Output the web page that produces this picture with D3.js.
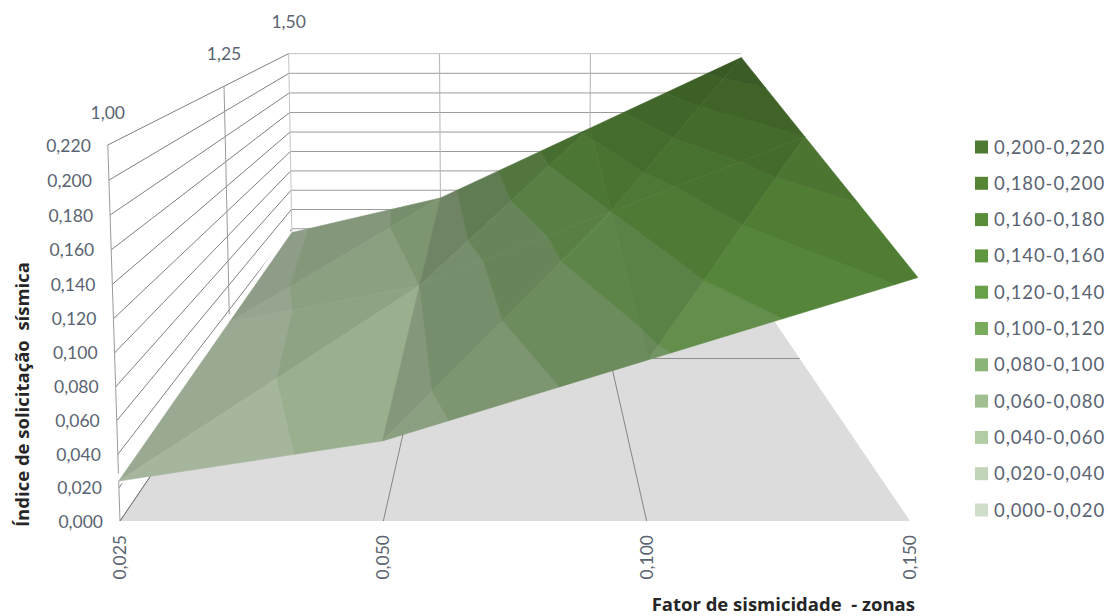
<!DOCTYPE html>
<html lang="pt">
<head>
<meta charset="utf-8">
<title>Índice de solicitação sísmica</title>
<script src="https://cdn.jsdelivr.net/npm/d3@7"></script>
<style>
  html, body { margin: 0; background: #fff; }
  svg { display: block; }
  text { font-family: Lato, "Open Sans", sans-serif; }
  .axis-title { font-family: "Open Sans", Lato, sans-serif; font-weight: 700; font-size: 18.5px; fill: #262626; white-space: pre; }
</style>
</head>
<body>
<svg id="chart" width="1108" height="616"></svg>
<script>
// Categories along the two horizontal axes
const zoneFactors = ["0,025", "0,050", "0,100", "0,150"];
const depthLabels = ["1,00", "1,25", "1,50"];

// Index values, one row per depth category
const row100 = [0.024, 0.048, 0.096, 0.144];
const row125 = [0.030, 0.060, 0.120, 0.180];
const row150 = [0.036, 0.072, 0.144, 0.216];
const surfaceRows = [row100, row125, row150];

// Vertical axis ticks and colour bands
const valueTicks = [0, 0.02, 0.04, 0.06, 0.08, 0.10, 0.12, 0.14, 0.16, 0.18, 0.20, 0.22];
const bandLabels = ["0,000-0,020", "0,020-0,040", "0,040-0,060", "0,060-0,080", "0,080-0,100",
  "0,100-0,120", "0,120-0,140", "0,140-0,160", "0,160-0,180", "0,180-0,200", "0,200-0,220"];
const bandColors = ["#cfdec8", "#c0d4b7", "#b2cca5", "#a0c091", "#8bb478", "#78ab5c",
  "#67a046", "#5f963e", "#5a8d3a", "#558534", "#4e7a32"];

// Brightness of each facet: [front/right triangle, back/left triangle] per cell
const facetLight = [
  [[0.86, 0.80], [0.78, 0.74], [0.83, 0.76]],
  [[0.78, 0.74], [0.74, 0.69], [0.75, 0.72]]
];

const svg = d3.select("#chart");
const uScale = d3.scalePoint().domain(d3.range(zoneFactors.length)).range([0, 1]);
const dScale = d3.scalePoint().domain(d3.range(depthLabels.length)).range([0, 1]);
const vScale = d3.scaleLinear().domain([0, 0.22]).range([0, 1]);

// Perspective view of the unit box: u across, d into the page, v upward
function project(u, d, v) {
  const w = 1 + 0.775 * d - 0.03 * v;
  return [515 + 790 * (u - 0.5) / w, (521 - 47.1 * d - 380.35 * v) / w];
}
const ring = pts => "M" + pts.map(p => project(...p).map(n => n.toFixed(2)).join(",")).join("L") + "Z";
const segment = (a, b) => "M" + project(...a).join(",") + "L" + project(...b).join(",");

const walls = svg.append("g");

// Floor
walls.append("path").attr("d", ring([[0, 0, 0], [1, 0, 0], [1, 1, 0], [0, 1, 0]])).attr("fill", "#dcdcdc");

const gridLine = (a, b, colour) => walls.append("path").attr("d", segment(a, b))
  .attr("fill", "none").attr("stroke", colour).attr("stroke-width", 1);

// Level lines on the left and back walls
valueTicks.forEach(t => {
  const v = vScale(t);
  gridLine([0, 0, v], [0, 1, v], "#7f7f7f");
  gridLine([0, 1, v], [1, 1, v], t === 0.22 ? "#c4c4c4" : "#9b9b9b");
});

// Uprights on the walls and cross lines on the floor
depthLabels.forEach((_, j) => gridLine([0, dScale(j), 0], [0, dScale(j), 1], j === 2 ? "#c4c4c4" : "#9a9a9a"));
zoneFactors.forEach((_, i) => {
  if (i > 0 && i < 3) {
    gridLine([uScale(i), 1, 0], [uScale(i), 1, 1], "#b4b4b4");
    gridLine([uScale(i), 0, 0], [uScale(i), 1, 0], "#858585");
  }
});
gridLine([0, 0, 0], [0, 1, 0], "#7f7f7f");
gridLine([0, dScale(1), 0], [1, dScale(1), 0], "#8f8f8f");

// Bright rim left along the surface's wall edge
const rim = surfaceRows.map((row, j) => project(uScale(0), dScale(j), vScale(row[0])));
svg.append("path").attr("d", d3.line()(rim)).attr("fill", "none").attr("stroke", "#fff").attr("stroke-width", 9);

// Cut a triangle, given as [u, d, value] corners, down to one value band
function clipBand(tri, lo, hi) {
  const cut = (poly, keep, level) => {
    const out = [];
    poly.forEach((p, k) => {
      const q = poly[(k + 1) % poly.length];
      if (keep(p[2])) out.push(p);
      if (keep(p[2]) !== keep(q[2])) {
        const t = (level - p[2]) / (q[2] - p[2]);
        out.push([p[0] + t * (q[0] - p[0]), p[1] + t * (q[1] - p[1]), level]);
      }
    });
    return out;
  };
  let poly = cut(tri, x => x >= lo, lo);
  if (poly.length) poly = cut(poly, x => x <= hi, hi);
  return poly;
}

// Surface, painted from the back row forward
const surface = svg.append("g");
const corner = (i, j) => [uScale(i), dScale(j), surfaceRows[j][i]];
d3.range(depthLabels.length - 2, -1, -1).forEach(j => {
  d3.range(zoneFactors.length - 1).forEach(i => {
    const triangles = [
      [corner(i, j), corner(i, j + 1), corner(i + 1, j + 1)],
      [corner(i, j), corner(i + 1, j), corner(i + 1, j + 1)]
    ];
    triangles.forEach((tri, side) => {
      const light = facetLight[j][i][side === 1 ? 0 : 1];
      bandColors.forEach((base, b) => {
        const poly = clipBand(tri, valueTicks[b], valueTicks[b + 1]);
        if (poly.length < 3) return;
        const c = d3.rgb(base);
        const fill = d3.rgb(c.r * light, c.g * light, c.b * light).formatHex();
        surface.append("path")
          .attr("d", ring(poly.map(p => [p[0], p[1], vScale(p[2])])))
          .attr("fill", fill).attr("stroke", fill).attr("stroke-width", 0.6).attr("stroke-linejoin", "round");
      });
    });
  });
});

// Tick labels
const tickColour = "#5b6472";
const tickFont = "17.5px";
valueTicks.forEach(t => {
  const [x, y] = project(0, 0, vScale(t));
  svg.append("text").attr("x", x - 17).attr("y", y + 6.5).attr("text-anchor", "end")
    .attr("font-size", tickFont).attr("fill", tickColour).text(d3.format(".3f")(t).replace(".", ","));
});
zoneFactors.forEach((label, i) => {
  const [x] = project(uScale(i), 0, 0);
  svg.append("text").attr("transform", `translate(${x + 6},535) rotate(-90)`).attr("text-anchor", "end")
    .attr("font-size", tickFont).attr("fill", tickColour).text(label);
});
depthLabels.forEach((label, j) => {
  const [x, y] = project(0, dScale(j), 1);
  svg.append("text").attr("x", x).attr("y", y - 26).attr("text-anchor", "middle")
    .attr("font-size", tickFont).attr("fill", tickColour).text(label);
});

// Axis titles
svg.append("text").attr("class", "axis-title").attr("transform", "translate(29,527) rotate(-90)")
  .text("Índice de solicitação  sísmica");
svg.append("text").attr("class", "axis-title").attr("x", 915).attr("y", 611).attr("text-anchor", "end")
  .text("Fator de sismicidade  - zonas");

// Legend, highest band on top
const legendRow = d3.scalePoint().domain(d3.range(bandLabels.length).reverse()).range([147, 510]);
bandLabels.forEach((label, b) => {
  const y = legendRow(b);
  svg.append("rect").attr("x", 975).attr("y", y - 6.5).attr("width", 13).attr("height", 13).attr("fill", bandColors[b]);
  svg.append("text").attr("x", 994).attr("y", y + 6.5).attr("font-size", "18.5px").attr("letter-spacing", "0.9px")
    .attr("fill", tickColour).text(label);
});
</script>
</body>
</html>
